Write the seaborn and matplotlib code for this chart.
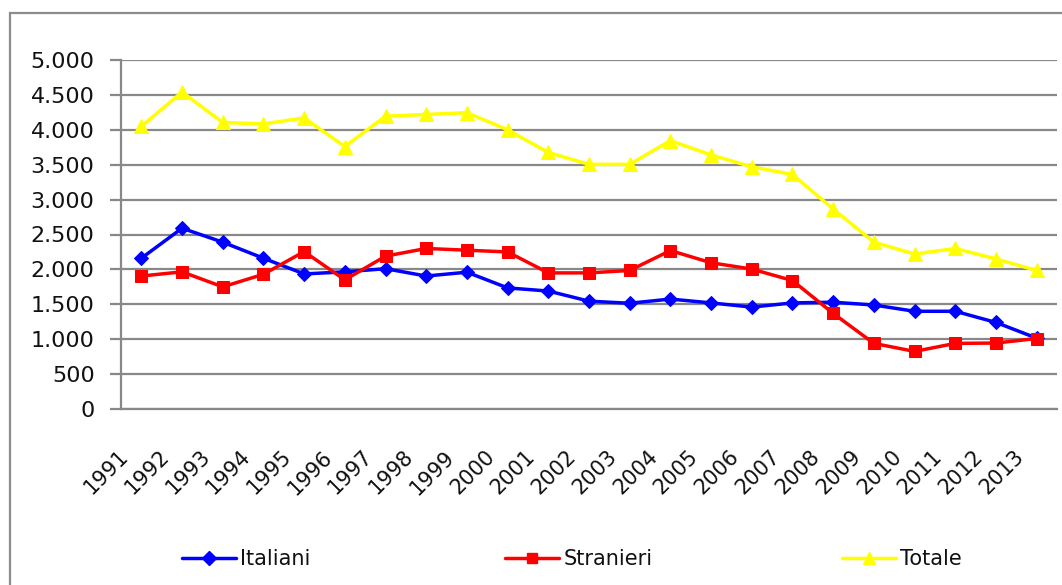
import numpy as np
import pandas as pd
import matplotlib
matplotlib.use("Agg")
import matplotlib.pyplot as plt
import matplotlib.transforms as mtransforms
from matplotlib.patches import Rectangle
import seaborn as sns

years = [str(y) for y in range(1991, 2014)]
italiani = [2160, 2590, 2390, 2160, 1935, 1965, 2010, 1905, 1960, 1735, 1690,
            1545, 1515, 1575, 1520, 1460, 1520, 1530, 1490, 1400, 1400, 1240, 1015]
stranieri = [1905, 1965, 1750, 1930, 2255, 1850, 2190, 2300, 2275, 2250, 1950,
             1950, 1985, 2270, 2095, 2005, 1840, 1370, 940, 825, 940, 945, 1010]
totale = [4050, 4540, 4105, 4085, 4170, 3760, 4195, 4220, 4245, 4000, 3675,
          3505, 3505, 3845, 3640, 3470, 3360, 2865, 2390, 2220, 2300, 2150, 1985]
series_names = ["Italiani", "Stranieri", "Totale"]
series_colors = ["#0000FF", "#FF0000", "#FFFF00"]
series_markers = ["D", "s", "^"]
yticks = list(range(0, 5001, 500))

sns.set_theme(style="white")
plt.rcParams["font.family"] = ["DejaVu Sans"]

W, H, DPI = 1062, 585, 100
fig = plt.figure(figsize=(W / DPI, H / DPI), dpi=DPI)
fig.patch.set_facecolor("white")

# outer chart border
fig.patches.append(Rectangle((10 / W, -0.05), 1.2, 1 - 13 / H + 0.05,
                             transform=fig.transFigure, fill=False,
                             edgecolor="#8c8c8c", linewidth=1.6))

ax = fig.add_axes([121 / W, 1 - 409 / H, (1057 - 121) / W, (409 - 60) / H])
ax.set_facecolor("white")

x = np.arange(len(years))
df = pd.DataFrame({"x": np.tile(x, 3),
                   "value": italiani + stranieri + totale,
                   "serie": np.repeat(series_names, len(years))})

marker_sizes = [7.5, 8.5, 10.5]
for name, col, mk, ms in zip(series_names, series_colors, series_markers, marker_sizes):
    sub = df[df["serie"] == name]
    sns.lineplot(data=sub, x="x", y="value", ax=ax, color=col, linewidth=2.5,
                 marker=mk, markersize=ms, markeredgecolor=col, markerfacecolor=col,
                 label=name, legend=False, zorder=3)

ax.set_xlim(-0.5, len(years) - 0.5)
ax.set_ylim(0, 5000)
ax.set_yticks(yticks)
ax.set_yticklabels([f"{v:,}".replace(",", ".") for v in yticks])
ax.grid(axis="y", color="#888888", linewidth=1.6)
ax.grid(axis="x", visible=False)
ax.set_axisbelow(True)

for s in ["top", "right"]:
    ax.spines[s].set_visible(False)
for s in ["left", "bottom"]:
    ax.spines[s].set_color("#888888")
    ax.spines[s].set_linewidth(1.6)

ax.set_xlabel("")
ax.set_ylabel("")

# category ticks between categories
ax.set_xticks(np.arange(-0.5, len(years), 1.0), minor=True)
ax.set_xticks(x)
ax.tick_params(axis="x", which="minor", length=8, width=1.6, color="#888888", direction="out")
ax.tick_params(axis="x", which="major", length=0, pad=27)
ax.set_xticklabels(years, rotation=45, ha="right", va="top", fontsize=15, color="#111111")
offset = mtransforms.ScaledTranslation(-9 / DPI, 0, fig.dpi_scale_trans)
for lbl in ax.get_xticklabels():
    lbl.set_transform(lbl.get_transform() + offset)

ax.tick_params(axis="y", which="major", length=8, width=1.6, color="#888888",
               direction="out", pad=11, labelsize=16, labelcolor="#111111", left=True)

# legend: three entries placed like the reference
legend_x = [182, 505, 842]
legend_ms = [7, 7.5, 8]
for name, col, mk, ms, lx in zip(series_names, series_colors, series_markers, legend_ms, legend_x):
    h = plt.Line2D([], [], color=col, marker=mk, markersize=ms, linewidth=2.5,
                   markeredgecolor=col, markerfacecolor=col)
    leg = fig.legend([h], [name], loc="center left", bbox_to_anchor=(lx / W, 1 - 559 / H),
                     frameon=False, fontsize=15, handlelength=2.6, handletextpad=0.2,
                     borderpad=0, borderaxespad=0, numpoints=1)
    for t in leg.get_texts():
        t.set_color("#111111")

fig.savefig("out.png", dpi=DPI)
